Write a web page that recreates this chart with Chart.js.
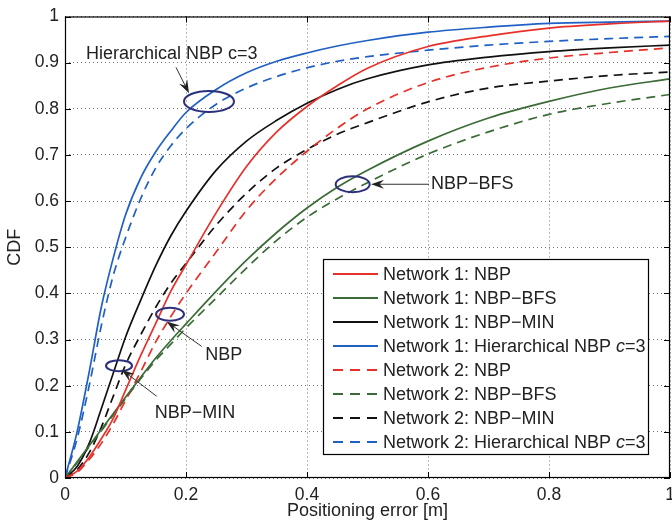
<!DOCTYPE html>
<html>
<head>
<meta charset="utf-8">
<script src="https://cdn.jsdelivr.net/npm/chart.js@4.4.1/dist/chart.umd.min.js"></script>
<style>
html, body { margin: 0; padding: 0; background: #fff; }
#wrap { width: 672px; height: 522px; }
</style>
</head>
<body>
<div id="wrap"><canvas id="cdfChart" width="672" height="522"></canvas></div>
<script>
const errX      = [0, 0.02, 0.04, 0.06, 0.08, 0.1, 0.125, 0.15, 0.175, 0.2, 0.25, 0.3, 0.35, 0.4, 0.45, 0.5, 0.6, 0.7, 0.8, 0.9, 1.0];

const n1Nbp     = [0, 0.015, 0.045, 0.085, 0.13, 0.19, 0.265, 0.335, 0.405, 0.462, 0.575, 0.675, 0.75, 0.805, 0.85, 0.888, 0.935, 0.958, 0.975, 0.984, 0.99];
const n1Bfs     = [0, 0.035, 0.07, 0.105, 0.14, 0.175, 0.218, 0.26, 0.298, 0.334, 0.405, 0.472, 0.532, 0.585, 0.63, 0.667, 0.73, 0.78, 0.816, 0.845, 0.865];
const n1Min     = [0, 0.025, 0.075, 0.15, 0.228, 0.305, 0.385, 0.46, 0.525, 0.578, 0.667, 0.73, 0.775, 0.812, 0.842, 0.865, 0.895, 0.912, 0.924, 0.932, 0.938];
const n1Hier    = [0, 0.10, 0.23, 0.37, 0.478, 0.57, 0.65, 0.707, 0.752, 0.792, 0.842, 0.878, 0.903, 0.921, 0.936, 0.948, 0.966, 0.977, 0.985, 0.988, 0.99];
const n2Nbp     = [0, 0.012, 0.04, 0.075, 0.118, 0.168, 0.23, 0.295, 0.35, 0.40, 0.49, 0.58, 0.65, 0.708, 0.758, 0.80, 0.857, 0.89, 0.91, 0.922, 0.932];
const n2Bfs     = [0, 0.033, 0.068, 0.102, 0.137, 0.172, 0.215, 0.255, 0.29, 0.325, 0.39, 0.455, 0.515, 0.565, 0.605, 0.64, 0.702, 0.75, 0.788, 0.812, 0.831];
const n2Min     = [0, 0.018, 0.055, 0.11, 0.178, 0.245, 0.31, 0.37, 0.422, 0.465, 0.548, 0.617, 0.672, 0.712, 0.745, 0.77, 0.815, 0.845, 0.86, 0.872, 0.88];
const n2Hier    = [0, 0.085, 0.2, 0.33, 0.44, 0.52, 0.605, 0.672, 0.72, 0.757, 0.81, 0.845, 0.87, 0.889, 0.903, 0.913, 0.927, 0.938, 0.946, 0.952, 0.957];

const xTicks = [0, 0.2, 0.4, 0.6, 0.8, 1];
const yTicks = [0, 0.1, 0.2, 0.3, 0.4, 0.5, 0.6, 0.7, 0.8, 0.9, 1];

const RED = "#e8302a", GREEN = "#3b6b36", BLACK = "#111111", BLUE = "#2060c4";
const FONT = "'Liberation Sans', Arial, Helvetica, sans-serif";

const series = [
    { label: "Network 1: NBP", ys: n1Nbp, color: RED, dash: [] },
    { label: "Network 1: NBP\u2212BFS", ys: n1Bfs, color: GREEN, dash: [] },
    { label: "Network 1: NBP\u2212MIN", ys: n1Min, color: BLACK, dash: [] },
    { label: "Network 1: Hierarchical NBP c=3", ys: n1Hier, color: BLUE, dash: [] },
    { label: "Network 2: NBP", ys: n2Nbp, color: RED, dash: [9, 6] },
    { label: "Network 2: NBP\u2212BFS", ys: n2Bfs, color: GREEN, dash: [9, 6] },
    { label: "Network 2: NBP\u2212MIN", ys: n2Min, color: BLACK, dash: [9, 6] },
    { label: "Network 2: Hierarchical NBP c=3", ys: n2Hier, color: BLUE, dash: [9, 6] }
];

// callouts, positions in data units, ring radii in px
const notes = [
    { text: "Hierarchical NBP c=3", at: [0.0347, 0.918], align: "left", from: [0.1835, 0.8898], to: [0.205, 0.8337], ring: [0.238, 0.816, 25, 10.5] },
    { text: "NBP\u2212BFS", at: [0.605, 0.6365], align: "left", from: [0.6017, 0.6365], to: [0.5058, 0.6365], ring: [0.4755, 0.6365, 17, 8] },
    { text: "NBP", at: [0.2623, 0.2672], align: "center", from: [0.226, 0.285], to: [0.168, 0.339], ring: [0.1736, 0.3549, 14, 6.5] },
    { text: "NBP\u2212MIN", at: [0.2149, 0.141], align: "center", from: [0.1516, 0.1771], to: [0.0937, 0.2348], ring: [0.0893, 0.2434, 13, 5.5] }
];

const fmt = v => String(+Number(v).toFixed(1));

function drawArrow(ctx, x0, y0, x1, y1){
    const a = Math.atan2(y1 - y0, x1 - x0), c = Math.cos(a), s = Math.sin(a);
    const len = 13, half = 4.5;
    ctx.beginPath();
    ctx.moveTo(x0, y0);
    ctx.lineTo(x1 - c * len * 0.6, y1 - s * len * 0.6);
    ctx.stroke();
    ctx.beginPath();
    ctx.moveTo(x1, y1);
    ctx.lineTo(x1 - c * len + s * half, y1 - s * len - c * half);
    ctx.lineTo(x1 - c * len * 0.65, y1 - s * len * 0.65);
    ctx.lineTo(x1 - c * len - s * half, y1 - s * len + c * half);
    ctx.closePath();
    ctx.fill();
}

function drawLabel(ctx, text, x, y){
    // "c" of c=3 in italics like the original legend
    const m = text.match(/^(.*)c(=3)$/);
    if(!m){ ctx.fillText(text, x, y); return; }
    ctx.fillText(m[1], x, y);
    let w = ctx.measureText(m[1]).width;
    const up = ctx.font;
    ctx.font = "italic " + up;
    ctx.fillText("c", x + w, y);
    w += ctx.measureText("c").width;
    ctx.font = up;
    ctx.fillText(m[2], x + w, y);
}

const overlay = {
    id: "overlay",
    afterDatasetsDraw(chart){
        const { ctx, chartArea: a, scales: { x, y } } = chart;
        ctx.save();

        // inward ticks + box
        ctx.strokeStyle = "#000";
        ctx.lineWidth = 1;
        ctx.beginPath();
        xTicks.forEach(v => {
            const px = Math.round(x.getPixelForValue(v)) + 0.5;
            ctx.moveTo(px, a.bottom); ctx.lineTo(px, a.bottom - 6);
            ctx.moveTo(px, a.top); ctx.lineTo(px, a.top + 6);
        });
        yTicks.forEach(v => {
            const py = Math.round(y.getPixelForValue(v)) + 0.5;
            ctx.moveTo(a.left, py); ctx.lineTo(a.left + 6, py);
            ctx.moveTo(a.right, py); ctx.lineTo(a.right - 6, py);
        });
        ctx.stroke();
        ctx.lineWidth = 1.2;
        ctx.strokeRect(a.left + 0.5, a.top + 0.5, a.right - a.left - 1, a.bottom - a.top - 1);

        // callouts
        ctx.font = "18px " + FONT;
        ctx.textBaseline = "middle";
        notes.forEach(n => {
            ctx.strokeStyle = "#2c2f7c";
            ctx.lineWidth = 2;
            ctx.beginPath();
            ctx.ellipse(x.getPixelForValue(n.ring[0]), y.getPixelForValue(n.ring[1]), n.ring[2], n.ring[3], 0, 0, Math.PI * 2);
            ctx.stroke();
            ctx.strokeStyle = "#333";
            ctx.fillStyle = "#222";
            ctx.lineWidth = 1;
            drawArrow(ctx, x.getPixelForValue(n.from[0]), y.getPixelForValue(n.from[1]),
                           x.getPixelForValue(n.to[0]), y.getPixelForValue(n.to[1]));
            ctx.textAlign = n.align;
            ctx.fillStyle = "#222";
            ctx.fillText(n.text, x.getPixelForValue(n.at[0]), y.getPixelForValue(n.at[1]));
        });

        // legend box
        const lx = 323.5, ly = 259.5, lw = 325, lh = 195;
        ctx.fillStyle = "#fff";
        ctx.fillRect(lx, ly, lw, lh);
        ctx.strokeStyle = "#000";
        ctx.lineWidth = 1.2;
        ctx.strokeRect(lx, ly, lw, lh);
        ctx.textAlign = "left";
        chart.data.datasets.forEach((ds, i) => {
            const ry = 274 + i * 24;
            ctx.strokeStyle = ds.borderColor;
            ctx.lineWidth = 2;
            ctx.setLineDash(ds.borderDash.length ? [10, 7] : []);
            ctx.beginPath();
            ctx.moveTo(333, ry); ctx.lineTo(378, ry);
            ctx.stroke();
            ctx.setLineDash([]);
            ctx.fillStyle = "#222";
            drawLabel(ctx, ds.label, 383, ry + 1);
        });
        ctx.restore();
    }
};

function bootChart(){
    const cv = document.getElementById("cdfChart");
    return new Chart(cv.getContext("2d"), {
        type: "line",
        data: {
            datasets: series.map(s => ({
                label: s.label,
                data: errX.map((v, i) => ({ x: v, y: s.ys[i] })),
                borderColor: s.color,
                borderDash: s.dash,
                borderWidth: 1.7,
                pointRadius: 0,
                cubicInterpolationMode: "monotone",
                fill: false
            }))
        },
        options: {
            responsive: false, animation: false, devicePixelRatio: 1,
            layout: { padding: { top: 15, right: 2, left: 0, bottom: 0 } },
            plugins: { legend: { display: false }, tooltip: { enabled: false } },
            scales: {
                x: {
                    type: "linear", min: 0, max: 1,
                    afterFit(s){ s.height = 44; s.paddingLeft = 0; s.paddingRight = 0; },
                    ticks: { stepSize: 0.2, padding: 7, color: "#222", maxRotation: 0, font: { family: FONT, size: 17.5 }, callback: fmt },
                    grid: { color: "rgba(0,0,0,0.55)", drawTicks: false, lineWidth: 1 },
                    border: { display: false, dash: [1, 3] },
                    title: { display: true, text: "Positioning error [m]", color: "#222", padding: 0, font: { family: FONT, size: 18 } }
                },
                y: {
                    type: "linear", min: 0, max: 1,
                    afterFit(s){ s.width = 65; },
                    ticks: { stepSize: 0.1, padding: 6, color: "#222", font: { family: FONT, size: 17.5 }, callback: fmt },
                    grid: { color: "rgba(0,0,0,0.55)", drawTicks: false, lineWidth: 1 },
                    border: { display: false, dash: [1, 3] },
                    title: { display: true, text: "CDF", color: "#222", padding: { top: 4, bottom: 0 }, font: { family: FONT, size: 18 } }
                }
            }
        },
        plugins: [overlay]
    });
}

document.addEventListener("DOMContentLoaded", bootChart);
</script>
</body>
</html>
